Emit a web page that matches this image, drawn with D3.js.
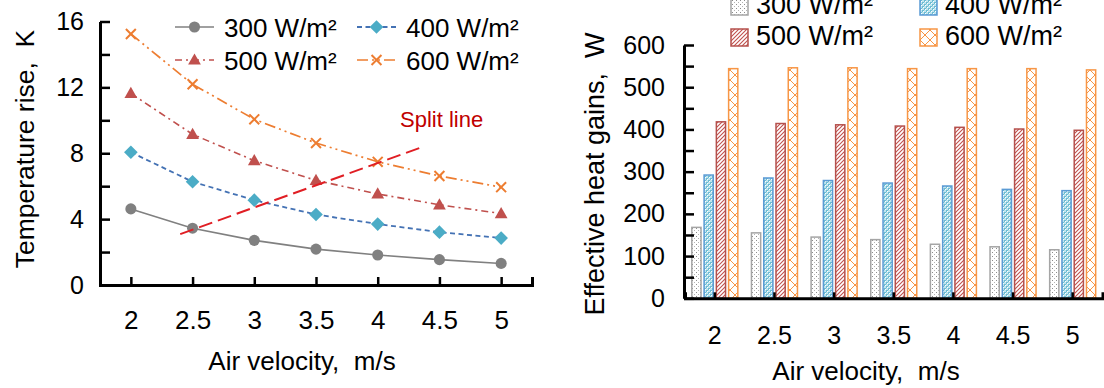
<!DOCTYPE html>
<html><head><meta charset="utf-8">
<script src="https://cdn.jsdelivr.net/npm/d3@7"></script>
<style>
body{margin:0;background:#fff;}
svg text{font-family:"Liberation Sans",Arial,sans-serif;fill:#000;white-space:pre;}
</style></head><body>
<svg id="c" width="1104" height="388"></svg>
<script>
// ---------- data ----------
const velocities = [2, 2.5, 3, 3.5, 4, 4.5, 5];
const velocityLabels = ["2", "2.5", "3", "3.5", "4", "4.5", "5"];
const seriesNames = ["300 W/m²", "400 W/m²", "500 W/m²", "600 W/m²"];
const tempRise300 = [4.62, 3.45, 2.71, 2.18, 1.82, 1.54, 1.31];
const tempRise400 = [8.06, 6.27, 5.15, 4.28, 3.70, 3.21, 2.85];
const tempRise500 = [11.63, 9.15, 7.55, 6.35, 5.53, 4.87, 4.34];
const tempRise600 = [15.24, 12.19, 10.06, 8.62, 7.48, 6.62, 5.94];
const splitLineV = [2.40, 4.38];
const splitLineT = [3.09, 8.43];
const heatGain300 = [168, 155, 145, 139, 128, 122, 115];
const heatGain400 = [292, 285, 279, 273, 266, 258, 255];
const heatGain500 = [418, 414, 411, 408, 405, 401, 398];
const heatGain600 = [544, 546, 546, 544, 544, 544, 541];
const tempTicks = [0, 2, 4, 6, 8, 10, 12, 14, 16];
const heatTicks = [0, 50, 100, 150, 200, 250, 300, 350, 400, 450, 500, 550, 600];

const svg = d3.select("#c");
const defs = svg.append("defs");

// ---------- patterns ----------
let p = defs.append("pattern").attr("id", "pat300").attr("patternUnits", "userSpaceOnUse").attr("width", 4).attr("height", 4);
p.append("rect").attr("width", 4).attr("height", 4).attr("fill", "#fff");
p.append("rect").attr("x", 0).attr("y", 0).attr("width", 1).attr("height", 1).attr("fill", "#8c8c8c");
p.append("rect").attr("x", 2).attr("y", 2).attr("width", 1).attr("height", 1).attr("fill", "#b4b4b4");

p = defs.append("pattern").attr("id", "pat400").attr("patternUnits", "userSpaceOnUse").attr("width", 4).attr("height", 4);
p.append("rect").attr("width", 4).attr("height", 4).attr("fill", "#bfe4ee");
p.append("rect").attr("x", 0).attr("y", 0).attr("width", 2).attr("height", 2).attr("fill", "#6cbcd2");
p.append("rect").attr("x", 2).attr("y", 2).attr("width", 2).attr("height", 2).attr("fill", "#6cbcd2");
p.append("rect").attr("x", 1).attr("y", 1).attr("width", 1).attr("height", 1).attr("fill", "#ffffff");
p.append("rect").attr("x", 3).attr("y", 3).attr("width", 1).attr("height", 1).attr("fill", "#ffffff");

p = defs.append("pattern").attr("id", "pat500").attr("patternUnits", "userSpaceOnUse").attr("width", 4).attr("height", 4);
p.append("rect").attr("width", 4).attr("height", 4).attr("fill", "#fff");
p.append("path").attr("d", "M-1,1 L1,-1 M0,4 L4,0 M3,5 L5,3").attr("stroke", "#c0504d").attr("stroke-width", 1.1);

p = defs.append("pattern").attr("id", "pat600").attr("patternUnits", "userSpaceOnUse").attr("width", 10).attr("height", 10);
p.append("rect").attr("width", 10).attr("height", 10).attr("fill", "#fff");
p.append("path").attr("d", "M0,0 L10,10 M10,0 L0,10").attr("stroke", "#f79646").attr("stroke-width", 1);

// ---------- LEFT CHART ----------
const xL = d3.scaleLinear().domain([1.75, 5.25]).range([100, 532]);
const yL = d3.scaleLinear().domain([0, 16]).range([285, 21.5]);

const lineStyles = [
  {name: seriesNames[0], data: tempRise300, stroke: "#808080", dash: null, width: 1.6, marker: "circle", mfill: "#808080"},
  {name: seriesNames[1], data: tempRise400, stroke: "#4472b4", dash: "5,3.5", width: 1.8, marker: "diamond", mfill: "#4bacc6"},
  {name: seriesNames[2], data: tempRise500, stroke: "#c0504d", dash: "7,4,2,4", width: 1.6, marker: "triangle", mfill: "#c0504d"},
  {name: seriesNames[3], data: tempRise600, stroke: "#ed7d31", dash: "11,4,2,4,2,4", width: 1.7, marker: "cross", mfill: "#ed7d31"}
];

// axes
const gxL = svg.append("g").attr("transform", `translate(0,${yL(0)})`)
  .call(d3.axisBottom(xL).tickValues(velocities).tickFormat((d, i) => velocityLabels[i])
    .tickSizeInner(-8).tickSizeOuter(-8).tickPadding(26));
const gyL = svg.append("g").attr("transform", `translate(${xL(1.75)},0)`)
  .call(d3.axisLeft(yL).tickValues(tempTicks).tickFormat(d => d % 4 === 0 ? d : "")
    .tickSizeInner(-10).tickSizeOuter(0).tickPadding(16));
[gxL, gyL].forEach(g => {
  g.select(".domain").attr("stroke", "#000").attr("stroke-width", 3);
  g.selectAll(".tick line").attr("stroke", "#000").attr("stroke-width", 2.5);
  g.selectAll(".tick text").attr("font-size", 25).attr("fill", "#000");
});
gxL.selectAll(".tick text").attr("font-size", 26);

function markerPath(type, s) {
  if (type === "circle") return d3.symbol(d3.symbolCircle, s * s * 0.8)();
  if (type === "diamond") return `M0,${-s*0.62}L${s*0.62},0L0,${s*0.62}L${-s*0.62},0Z`;
  if (type === "triangle") return `M0,${-s*0.6}L${s*0.58},${s*0.42}L${-s*0.58},${s*0.42}Z`;
  return `M${-s*0.45},${-s*0.45}L${s*0.45},${s*0.45}M${s*0.45},${-s*0.45}L${-s*0.45},${s*0.45}`;
}
function drawMarker(g, st, x, y) {
  const m = g.append("path").attr("transform", `translate(${x},${y})`).attr("d", markerPath(st.marker, 11));
  if (st.marker === "cross") m.attr("fill", "none").attr("stroke", st.mfill).attr("stroke-width", 2);
  else m.attr("fill", st.mfill);
}

const line = d3.line().x((d, i) => xL(velocities[i])).y(d => yL(d));
lineStyles.forEach(st => {
  const g = svg.append("g");
  g.append("path").datum(st.data).attr("d", line).attr("fill", "none")
    .attr("stroke", st.stroke).attr("stroke-width", st.width).attr("stroke-dasharray", st.dash);
  st.data.forEach((v, i) => drawMarker(g, st, xL(velocities[i]), yL(v)));
});

// split line
svg.append("path").datum(splitLineV.map((v, i) => [v, splitLineT[i]]))
  .attr("d", d3.line().x(d => xL(d[0])).y(d => yL(d[1])))
  .attr("fill", "none").attr("stroke", "#e01e24").attr("stroke-width", 2).attr("stroke-dasharray", "14,6");
svg.append("text").attr("x", 400).attr("y", 127).attr("font-size", 22).attr("fill", "#c00000")
  .style("fill", "#c00000").text("Split line");

// left legend
const legPosL = [[175, 27], [357, 27], [175, 60], [357, 60]];
lineStyles.forEach((st, i) => {
  const [lx, ly] = legPosL[i];
  const g = svg.append("g");
  g.append("line").attr("x1", lx).attr("x2", lx + 39).attr("y1", ly).attr("y2", ly)
    .attr("stroke", st.stroke).attr("stroke-width", st.width).attr("stroke-dasharray", st.dash);
  drawMarker(g, st, lx + 19.5, ly);
  g.append("text").attr("x", lx + 49).attr("y", ly + 9.5).attr("font-size", 26).text(st.name);
});

// left titles
svg.append("text").attr("x", 302).attr("y", 370).attr("text-anchor", "middle").attr("font-size", 26)
  .text("Air velocity,  m/s");
svg.append("text").attr("transform", "translate(34,149) rotate(-90)").attr("text-anchor", "middle")
  .attr("font-size", 26.5).text("Temperature rise,  K");

// ---------- RIGHT CHART ----------
const xR = d3.scaleBand().domain(velocityLabels).range([685, 1102.5]).padding(0);
const xSub = d3.scaleBand().domain(seriesNames).range([xR.bandwidth() / 2 - 23, xR.bandwidth() / 2 + 23]).paddingInner(0.25);
const yR = d3.scaleLinear().domain([0, 600]).range([298.3, 45]);

const barStyles = [
  {name: seriesNames[0], data: heatGain300, fill: "url(#pat300)", stroke: "#a5a5a5"},
  {name: seriesNames[1], data: heatGain400, fill: "url(#pat400)", stroke: "#5b9bd5"},
  {name: seriesNames[2], data: heatGain500, fill: "url(#pat500)", stroke: "#b5504c"},
  {name: seriesNames[3], data: heatGain600, fill: "url(#pat600)", stroke: "#f79646"}
];

barStyles.forEach(st => {
  svg.append("g").selectAll("rect").data(st.data).join("rect")
    .attr("x", (d, i) => xR(velocityLabels[i]) + xSub(st.name))
    .attr("width", xSub.bandwidth())
    .attr("y", d => yR(d))
    .attr("height", d => yR(0) - yR(d))
    .attr("fill", st.fill).attr("stroke", st.stroke).attr("stroke-width", 1.5);
});

const gyR = svg.append("g").attr("transform", `translate(684,0)`)
  .call(d3.axisLeft(yR).tickValues(heatTicks).tickFormat(d => d % 100 === 0 ? d : "")
    .tickSizeInner(-10).tickSizeOuter(0).tickPadding(19));
const gxR = svg.append("g").attr("transform", `translate(0,${yR(0)})`)
  .call(d3.axisBottom(xR).tickSizeInner(-6).tickSizeOuter(-6).tickPadding(28));
[gxR, gyR].forEach(g => {
  g.select(".domain").attr("stroke", "#000").attr("stroke-width", 3);
  g.selectAll(".tick line").attr("stroke", "#000").attr("stroke-width", 2.5);
  g.selectAll(".tick text").attr("font-size", 25).attr("fill", "#000");
});

// right legend
const legPosR = [[731, 6.5], [920, 6.5], [731, 37.5], [920, 37.5]];
barStyles.forEach((st, i) => {
  const [lx, ly] = legPosR[i];
  svg.append("rect").attr("x", lx).attr("y", ly - 8.5).attr("width", 17).attr("height", 17)
    .attr("fill", st.fill).attr("stroke", st.stroke).attr("stroke-width", 1.5);
  svg.append("text").attr("x", lx + 25).attr("y", ly + 7).attr("font-size", 27).text(st.name);
});

// right titles
svg.append("text").attr("x", 866).attr("y", 380).attr("text-anchor", "middle").attr("font-size", 26)
  .text("Air velocity,  m/s");
svg.append("text").attr("transform", "translate(604,174) rotate(-90)").attr("text-anchor", "middle")
  .attr("font-size", 27).text("Effective heat gains,  W");
</script>
</body></html>
